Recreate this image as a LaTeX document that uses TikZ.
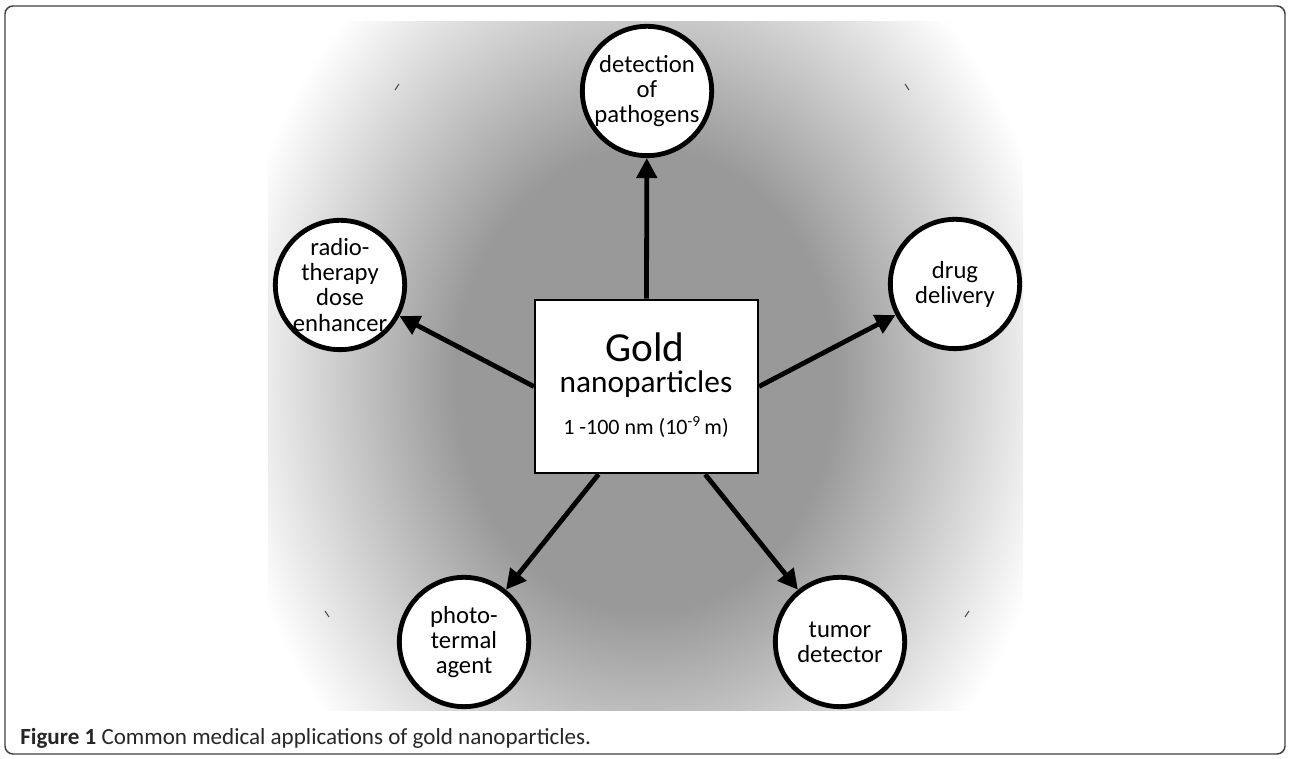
\documentclass[tikz,border=0pt]{standalone}
\usepackage{fontspec}
\setmainfont{Carlito}
\usetikzlibrary{arrows.meta}

\pgfdeclareradialshading{goldglow}{\pgfpoint{0bp}{0bp}}{color(0bp)=(black!40); color(12.6bp)=(black!40); color(28bp)=(white); color(50bp)=(white)}

\tikzset{
  appnode/.style={draw=black, line width=3.6pt, fill=white, circle, minimum size=97pt, inner sep=0pt},
  apptext/.style={align=center, inner sep=0pt, font=\fontsize{18.5}{18.8}\selectfont},
  goldarrow/.style={line width=3.6pt, -{Triangle[length=15pt,width=15pt]}},
}

\begin{document}
\begin{tikzpicture}[x=0.75pt, y=0.75pt]
		\useasboundingbox (0,0) rectangle (1290,759);
		\draw[black!75, line width=1.1pt, rounded corners=6pt] (5,5) rectangle (1285,753);
		% grey glow behind the diagram
		\begin{scope}
		\clip (268,48) rectangle (1023,737);
		\shade[shading=goldglow] (268,-81) rectangle (1023,839);
		\end{scope}
		\draw[black!70, line width=0.8pt] (395,669) -- (399,675);
		\draw[black!70, line width=0.8pt] (905,675) -- (909,669);
		\draw[black!70, line width=0.8pt] (325,148) -- (329,142);
		\draw[black!70, line width=0.8pt] (965,142) -- (969,148);
		% centre box
		\node[draw, line width=1.8pt, fill=white, minimum width=167pt, minimum height=130pt, inner sep=0pt] (box) at (646.5,372.5) {};
		\node[anchor=base, inner sep=0pt, font=\fontsize{31}{31}\selectfont] (gold) at (645,397) {Gold};
		\node[anchor=base, inner sep=0pt, font=\fontsize{23.5}{24}\selectfont] (nano) at (646,366) {nanoparticles};
		\node[anchor=base, inner sep=0pt, font=\fontsize{16.5}{17}\selectfont] (size) at (646,324) {1 -100 nm (10\textsuperscript{-9}\,m)};
		% applications
		\node[appnode] (detect) at (647,668) {};
		\node[appnode] (radio) at (340,474) {};
		\node[appnode] (drug) at (955,475) {};
		\node[appnode] (photo) at (464,117) {};
		\node[appnode] (tumor) at (840,117) {};
		\node[apptext] (detect-text) at (detect) {detection\\of\\pathogens};
		\node[apptext] (radio-text) at (radio) {radio-\\therapy\\dose\\enhancer};
		\node[apptext] (drug-text) at (drug) {drug\\delivery};
		\node[apptext] (photo-text) at (photo) {photo-\\termal\\agent};
		\node[apptext] (tumor-text) at (tumor) {tumor\\detector};
		% arrows
		\draw[goldarrow] (box.north) -- (detect);
		\draw[goldarrow] (box.west) -- (radio);
		\draw[goldarrow] (box.east) -- (drug);
		\draw[goldarrow] ([xshift=-36pt]box.south) -- (photo);
		\draw[goldarrow] ([xshift=44pt]box.south) -- (tumor);
		% caption
		\node[anchor=base west, inner sep=0pt, text=black!85, font=\fontsize{17.3}{18}\selectfont] (caption) at (20,14) {\bfseries Figure 1 \mdseries Common medical applications of gold nanoparticles.};
\end{tikzpicture}
\end{document}
